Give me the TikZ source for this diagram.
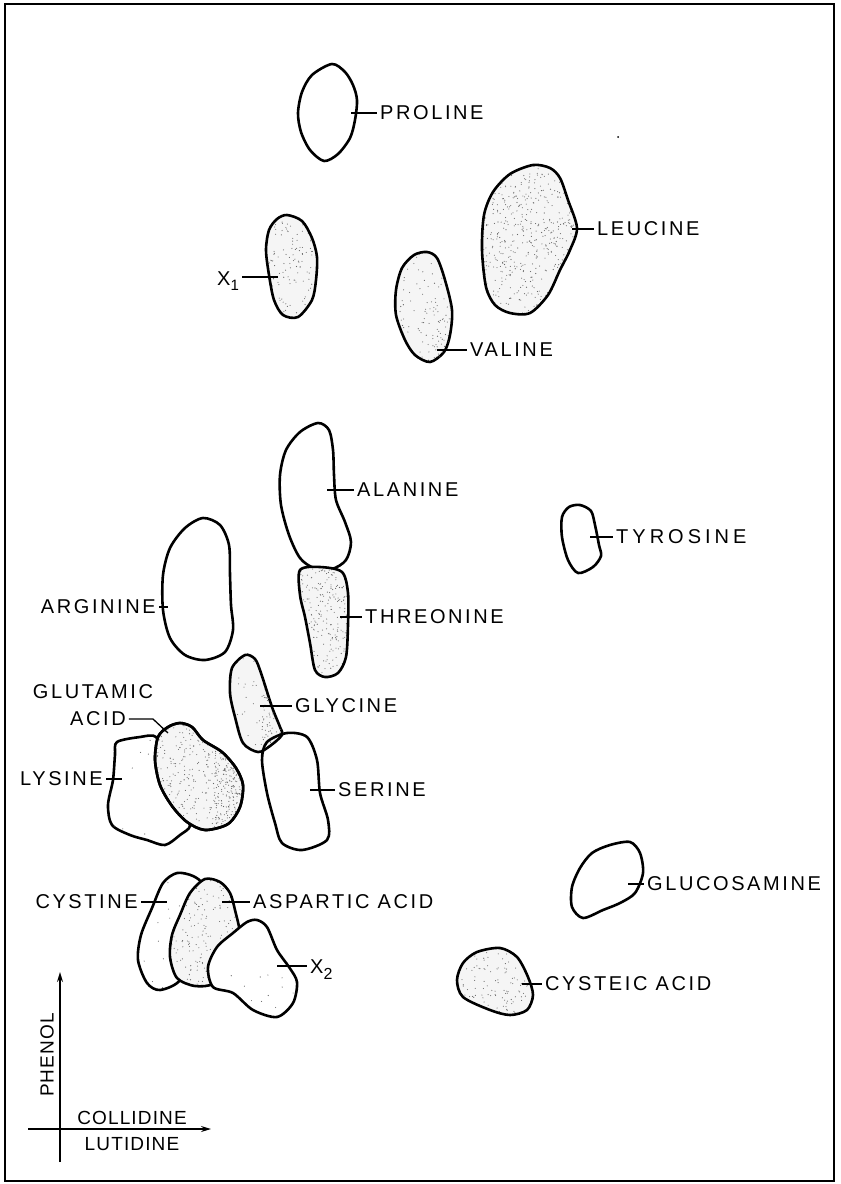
\documentclass[tikz,border=0pt]{standalone}
\usepackage{fontspec}
\setmainfont{Liberation Sans}[LetterSpace=13]
\usetikzlibrary{arrows.meta}

\newcommand\spot[1]{\draw[spotline] plot[smooth cycle] coordinates {#1};}
\newcommand\speckle[6]{%
  \begin{scope}
    \clip plot[smooth cycle] coordinates {#1};
    \foreach \k in {1,...,#6}
      \fill[speck] ({#2+rnd*#4},{#3+rnd*#5}) circle[radius=0.55pt];
  \end{scope}}
\newcommand\dotspot[6]{%
  \fill[spotfill] plot[smooth cycle] coordinates {#1};
  \speckle{#1}{#2}{#3}{#4}{#5}{#6}
  \spot{#1}}

\begin{document}
\begin{tikzpicture}[x=1pt,y=-1pt,>={Stealth[length=10pt,width=6pt]},
  spotline/.style={line width=2.6pt,line join=round},
  spotfill/.style={fill=black!4},
  speck/.style={fill=black!60},
  leader/.style={line width=1.3pt},
  lbl/.style={inner ysep=0pt,inner xsep=3pt,font=\fontsize{20}{23}\selectfont},
  axlbl/.style={inner sep=0pt,font=\fontsize{19}{21}\selectfont\addfontfeature{LetterSpace=6}}]
\pgfmathsetseed{11}
\useasboundingbox (0,0) rectangle (841,1184);
\draw[line width=2.5pt] (5,4) rectangle (834,1181);

% spots
\spot{(332,64) (345,72) (353,85) (357,100) (355,120) (350,138) (338,154) (324,161) (310,150) (301,132) (298,113) (302,92) (312,75)}
\dotspot{(533,165) (550,168) (560,178) (568,200) (577,228) (570,250) (560,270) (548,295) (530,313) (510,313) (495,305) (486,287) (482,250) (484,215) (493,192) (510,174)}{480}{163}{100}{153}{600}
\dotspot{(427,252) (437,258) (445,280) (452,310) (450,335) (444,352) (430,362) (415,355) (405,340) (396,315) (396,290) (402,268) (414,255)}{394}{250}{60}{114}{90}
\speckle{(427,252) (437,258) (445,280) (452,310) (450,335) (444,352) (430,362) (415,355) (405,340) (396,315) (396,290) (402,268) (414,255)}{420}{300}{35}{60}{50}
\dotspot{(287,215) (302,221) (312,238) (317,257) (316,280) (312,300) (298,317) (283,315) (274,300) (269,275) (266,250) (269,230) (277,219)}{264}{213}{55}{106}{130}
\spot{(318,423) (329,430) (333,450) (334,475) (336,500) (345,522) (351,542) (346,560) (332,569) (314,568) (300,558) (289,535) (281,505) (280,475) (286,450) (300,432)}
\dotspot{(300,570) (320,567) (342,572) (348,593) (348,625) (346,657) (338,673) (325,677) (315,670) (310,643) (305,617) (300,595)}{296}{565}{55}{114}{300}
\spot{(203,518) (220,525) (229,545) (230,575) (231,605) (233,630) (225,652) (205,660) (185,655) (170,638) (163,610) (163,575) (170,548) (185,528)}
\spot{(580,505) (591,511) (595,525) (599,545) (601,556) (593,567) (578,573) (568,560) (562,537) (562,517) (569,507)}
\dotspot{(245,655) (255,659) (261,673) (272,707) (280,727) (282,735) (270,746) (258,752) (243,743) (235,717) (230,693) (232,668)}{228}{653}{56}{101}{50}
\speckle{(245,655) (255,659) (261,673) (272,707) (280,727) (282,735) (270,746) (258,752) (243,743) (235,717) (230,693) (232,668)}{262}{690}{22}{55}{70}
\spot{(262,760) (267,742) (287,733) (307,737) (317,760) (320,793) (328,820) (327,840) (302,850) (282,843) (275,823) (267,793)}
\spot{(117,742) (140,737) (156,737) (162,760) (170,790) (182,812) (190,826) (180,835) (165,845) (147,840) (130,835) (112,825) (108,805) (113,780) (115,755)}
\speckle{(117,742) (140,737) (156,737) (162,760) (170,790) (182,812) (190,826) (180,835) (165,845) (147,840) (130,835) (112,825) (108,805) (113,780) (115,755)}{106}{735}{60}{110}{10}
\fill[white] plot[smooth cycle] coordinates {(180,723) (192,727) (203,740) (222,752) (236,768) (243,785) (240,807) (228,824) (205,830) (187,822) (172,806) (160,785) (155,760) (158,737) (168,727)};
\dotspot{(180,723) (192,727) (203,740) (222,752) (236,768) (243,785) (240,807) (228,824) (205,830) (187,822) (172,806) (160,785) (155,760) (158,737) (168,727)}{153}{720}{92}{112}{380}
\speckle{(180,723) (192,727) (203,740) (222,752) (236,768) (243,785) (240,807) (228,824) (205,830) (187,822) (172,806) (160,785) (155,760) (158,737) (168,727)}{214}{745}{31}{85}{200}
\spot{(180,723) (192,727) (203,740) (222,752) (236,768) (243,785) (240,807) (228,824) (205,830) (187,822) (172,806) (160,785) (155,760) (158,737) (168,727)}
\fill[white] plot[smooth cycle] coordinates {(177,873) (193,876) (202,885) (196,910) (186,950) (180,980) (160,990) (147,983) (138,960) (141,935) (152,908) (163,883)};
\speckle{(177,873) (193,876) (202,885) (196,910) (186,950) (180,980) (160,990) (147,983) (138,960) (141,935) (152,908) (163,883)}{136}{870}{68}{122}{20}
\spot{(177,873) (193,876) (202,885) (196,910) (186,950) (180,980) (160,990) (147,983) (138,960) (141,935) (152,908) (163,883)}
\fill[white] plot[smooth cycle] coordinates {(205,879) (220,882) (230,893) (235,910) (240,935) (235,960) (215,983) (195,986) (177,978) (170,957) (172,935) (180,915) (190,893)};
\dotspot{(205,879) (220,882) (230,893) (235,910) (240,935) (235,960) (215,983) (195,986) (177,978) (170,957) (172,935) (180,915) (190,893)}{168}{876}{74}{112}{220}
\fill[white] plot[smooth cycle] coordinates {(257,920) (267,927) (277,950) (289,967) (297,982) (293,1003) (277,1017) (253,1010) (233,993) (213,987) (208,967) (217,947) (233,933) (247,922)};
\speckle{(257,920) (267,927) (277,950) (289,967) (297,982) (293,1003) (277,1017) (253,1010) (233,993) (213,987) (208,967) (217,947) (233,933) (247,922)}{206}{918}{93}{101}{18}
\spot{(257,920) (267,927) (277,950) (289,967) (297,982) (293,1003) (277,1017) (253,1010) (233,993) (213,987) (208,967) (217,947) (233,933) (247,922)}
\spot{(630,842) (640,853) (643,873) (635,893) (620,903) (603,910) (583,918) (572,907) (572,887) (580,868) (592,853) (610,845)}
\dotspot{(500,948) (517,957) (528,977) (533,995) (527,1010) (510,1015) (490,1010) (463,997) (457,980) (463,963) (477,952)}{455}{946}{80}{71}{160}
\fill (618,137) circle[radius=1pt];

% labels
\coordinate (pro-t) at (351,113);
\coordinate (leu-t) at (572,229);
\coordinate (val-t) at (437,350);
\coordinate (xone-t) at (278,277);
\coordinate (ala-t) at (327,490);
\coordinate (tyr-t) at (590,537);
\coordinate (thr-t) at (340,617);
\coordinate (arg-t) at (168,607);
\coordinate (gly-t) at (260,706);
\coordinate (glu-k) at (153,719);
\coordinate (glu-t) at (168,733);
\coordinate (lys-t) at (122,779);
\coordinate (ser-t) at (310,790);
\coordinate (cys-t) at (167,902);
\coordinate (asp-t) at (222,902);
\coordinate (xtwo-t) at (277,966);
\coordinate (glc-t) at (628,884);
\coordinate (cya-t) at (522,984);

\node[lbl,anchor=west] (pro) at (377,113) {PROLINE};
\node[lbl,anchor=west] (leu) at (594,229) {LEUCINE};
\node[lbl,anchor=west] (val) at (467,350) {VALINE};
\node[lbl,anchor=base west] (xone) at (214,285) {X\raisebox{-5pt}{\fontsize{15}{15}\selectfont 1}};
\node[lbl,anchor=west] (ala) at (354,490) {ALANINE};
\node[lbl,anchor=west] (tyr) at (613,537) {\addfontfeature{LetterSpace=20}TYROSINE};
\node[lbl,anchor=west] (thr) at (362,617) {THREONINE};
\node[lbl,anchor=east] (arg) at (159,607) {ARGININE};
\node[lbl,anchor=west] (gly) at (292,706) {GLYCINE};
\node[lbl] (glu1) at (93,692) {GLUTAMIC};
\node[lbl] (glu2) at (98,719) {ACID};
\node[lbl,anchor=east] (lys) at (106,779) {LYSINE};
\node[lbl,anchor=west] (ser) at (335,790) {SERINE};
\node[lbl,anchor=east] (cys) at (141,902) {CYSTINE};
\node[lbl,anchor=west] (asp) at (250,902) {ASPARTIC ACID};
\node[lbl,anchor=base west] (xtwo) at (307,973) {X\raisebox{-6pt}{\fontsize{16}{16}\selectfont 2}};
\node[lbl,anchor=west] (glc) at (644,884) {GLUCOSAMINE};
\node[lbl,anchor=west] (cya) at (542,984) {CYSTEIC ACID};

\draw[leader] (pro-t) -- (pro.west);
\draw[leader] (leu-t) -- (leu.west);
\draw[leader] (val-t) -- (val.west);
\draw[leader] (xone.east |- xone-t) -- (xone-t);
\draw[leader] (ala-t) -- (ala.west);
\draw[leader] (tyr-t) -- (tyr.west);
\draw[leader] (thr-t) -- (thr.west);
\draw[leader] (arg.east) -- (arg-t);
\draw[leader] (gly-t) -- (gly.west);
\draw[leader] (glu2.east) -- (glu-k) -- (glu-t);
\draw[leader] (lys.east) -- (lys-t);
\draw[leader] (ser-t) -- (ser.west);
\draw[leader] (cys.east) -- (cys-t);
\draw[leader] (asp-t) -- (asp.west);
\draw[leader] (xtwo-t) -- (xtwo.west |- xtwo-t);
\draw[leader] (glc-t) -- (glc.west);
\draw[leader] (cya-t) -- (cya.west);

% axes
\coordinate (y0) at (60,1162);
\coordinate (y1) at (60,972);
\coordinate (x0) at (28,1129);
\coordinate (x1) at (211,1129);
\draw[leader,->] (y0) -- (y1);
\draw[leader,->] (x0) -- (x1);
\node[axlbl,rotate=90] (phe) at (47,1055) {PHENOL};
\node[axlbl] (col) at (132,1118) {COLLIDINE};
\node[axlbl] (lut) at (132,1144) {LUTIDINE};
\end{tikzpicture}
\end{document}
